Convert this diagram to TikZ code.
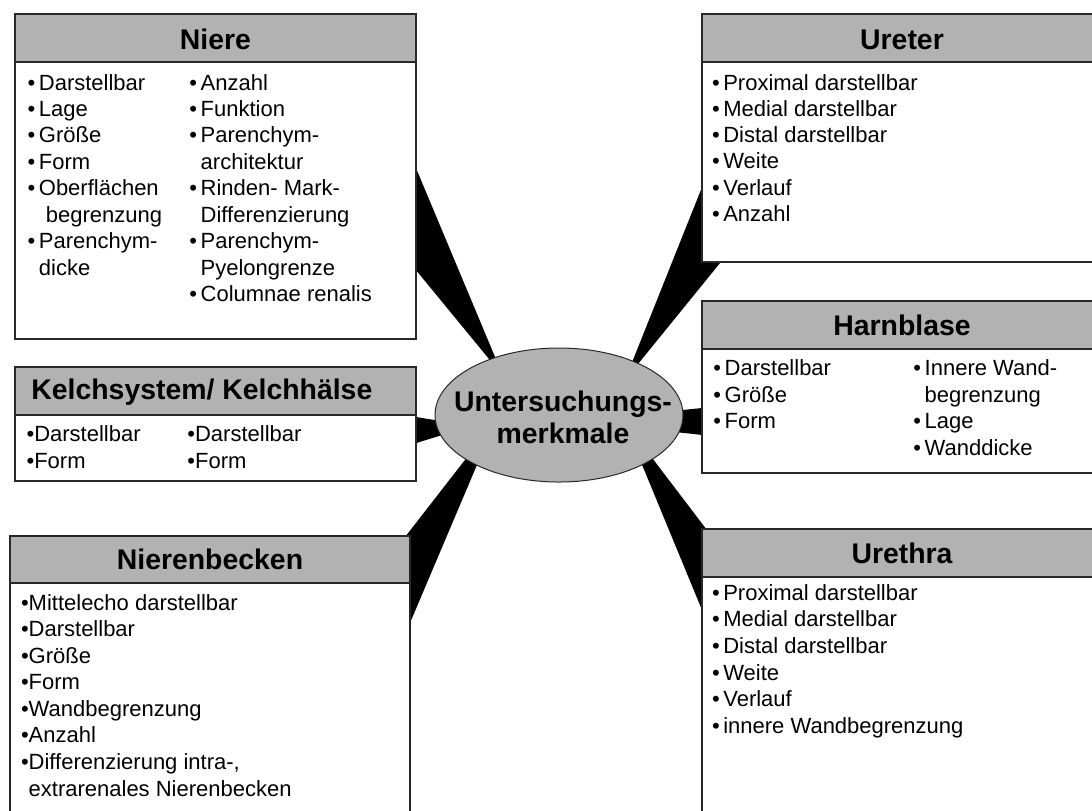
\documentclass[tikz,border=0pt]{standalone}
\usepackage{fontspec}
\setmainfont{Liberation Sans}
\usetikzlibrary{shapes.geometric}
\definecolor{hdr}{RGB}{178,178,178}
\definecolor{edge}{RGB}{40,40,40}
\newcommand\bu{•\hspace{1.8pt}}
\newcommand\bn{•}
\newcommand\ind{\hphantom{\bu}}
\newcommand\bodyfont{\fontsize{11}{13.25}\selectfont}
\newcommand\headfont{\fontsize{14.2}{12.8}\selectfont\bfseries}
\newcommand\itemcol[5]{\foreach \t [count=\i] in {#5}{\node[txt] (#1\i) at (#2,{#3+(\i-1)*#4}) {\t};}}
\pgfdeclarelayer{back}
\pgfsetlayers{back,main}
\begin{document}
\begin{tikzpicture}[x=0.5pt,y=-0.5pt,
  txt/.style={anchor=base west, inner sep=0pt, font=\bodyfont},
  head/.style={anchor=base, inner sep=0pt, font=\headfont},
  bodybox/.style={draw=edge, line width=0.65pt, fill=white},
  headbox/.style={draw=edge, line width=0.65pt, fill=hdr},
  wedge/.style={fill=black}]
\useasboundingbox (0,0) rectangle (1092,810);
\clip (0,0) rectangle (1092,810);

% centre
\node[ellipse, draw=edge, line width=0.5pt, fill=hdr, minimum width=124pt, minimum height=67pt, inner sep=0pt] (c) at (559,415) {};
\node[head] (ctext1) at (563,411) {Untersuchungs-};
\node[head] (ctext2) at (563,443) {merkmale};

% wedge coordinates
\coordinate (tN) at (503,376);  \coordinate (bN1) at (410,153.8); \coordinate (bN2) at (410,262.8);
\coordinate (tU) at (625,380);  \coordinate (bU1) at (710,167.2); \coordinate (bU2) at (726.5,255);
\coordinate (tK) at (471,426);  \coordinate (bK1) at (410,416);   \coordinate (bK2) at (410,445);
\coordinate (tH) at (575,421);  \coordinate (bH1) at (708,407.4); \coordinate (bH2) at (708,435.6);
\coordinate (tB) at (496,420);  \coordinate (bB1) at (398.8,545); \coordinate (bB2) at (407,630);
\coordinate (tR) at (624,421);  \coordinate (bR1) at (713,538);   \coordinate (bR2) at (705.3,618);
\begin{pgfonlayer}{back}
\foreach \w in {N,U,K,H,B,R}{\fill[wedge] (t\w) -- (b\w1) -- (b\w2) -- cycle;}
\end{pgfonlayer}

% Niere
\draw[bodybox] (15,62) rectangle (416,339);
\draw[headbox] (15,14) rectangle (416,62);
\node[head] (niere) at (215.5,49.3) {Niere};
\itemcol{nL}{27.2}{90}{26.46}{\bu Darstellbar,\bu Lage,\bu Größe,\bu Form,\bu Oberflächen,\ind\hspace{3.5pt}begrenzung,\bu Parenchym-,\ind dicke}
\itemcol{nR}{189}{90}{26.46}{\bu Anzahl,\bu Funktion,\bu Parenchym-,\ind architektur,\bu Rinden- Mark-,\ind Differenzierung,\bu Parenchym-,\ind Pyelongrenze,\bu Columnae renalis}

% Ureter
\draw[bodybox] (702,62) rectangle (1102,262);
\draw[headbox] (702,14) rectangle (1102,62);
\node[head] (ureter) at (902,49.3) {Ureter};
\itemcol{u}{711.6}{90}{26.3}{\bu Proximal darstellbar,\bu Medial darstellbar,\bu Distal darstellbar,\bu Weite,\bu Verlauf,\bu Anzahl}

% Harnblase
\draw[bodybox] (702,349) rectangle (1102,473);
\draw[headbox] (702,301) rectangle (1102,349);
\node[head] (harnblase) at (902,335) {Harnblase};
\itemcol{hL}{713}{375.8}{26.4}{\bu Darstellbar,\bu Größe,\bu Form}
\itemcol{hR}{913}{375.8}{26.4}{\bu Innere Wand-,\ind begrenzung,\bu Lage,\bu Wanddicke}

% Kelchsystem
\draw[bodybox] (15,415) rectangle (416,481);
\draw[headbox] (15,367) rectangle (416,415);
\node[head, anchor=base west] (kelch) at (31,399.3) {Kelchsystem/ Kelchhälse};
\itemcol{kL}{26.2}{441.7}{26.6}{\bn Darstellbar,\bn Form}
\itemcol{kR}{187}{441.7}{26.6}{\bn Darstellbar,\bn Form}

% Nierenbecken
\draw[bodybox] (10,583) rectangle (410,830);
\draw[headbox] (10,536) rectangle (410,583);
\node[head] (becken) at (210,569.3) {Nierenbecken};
\itemcol{b}{20.6}{610}{26.57}{\bn Mittelecho darstellbar,\bn Darstellbar,\bn Größe,\bn Form,\bn Wandbegrenzung,\bn Anzahl,{\bn Differenzierung intra-,},\hphantom{\bn}extrarenales Nierenbecken}

% Urethra
\draw[bodybox] (702,577) rectangle (1102,830);
\draw[headbox] (702,529) rectangle (1102,577);
\node[head] (urethra) at (902,563.3) {Urethra};
\itemcol{r}{711.6}{600}{26.7}{\bu Proximal darstellbar,\bu Medial darstellbar,\bu Distal darstellbar,\bu Weite,\bu Verlauf,\bu innere Wandbegrenzung}
\end{tikzpicture}
\end{document}
